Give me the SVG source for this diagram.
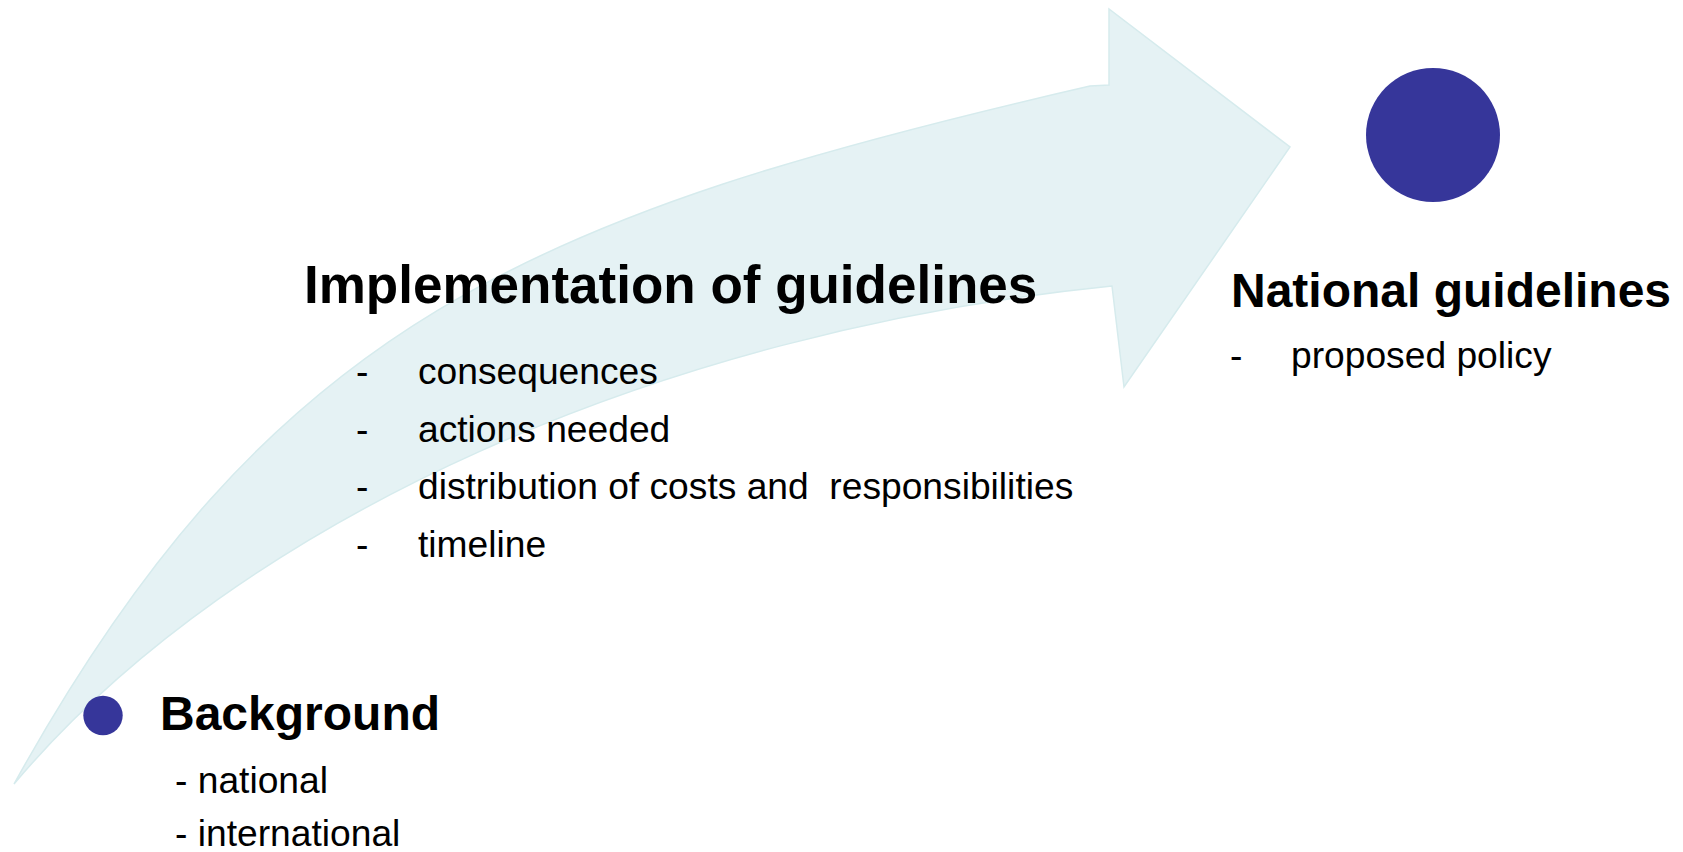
<svg xmlns="http://www.w3.org/2000/svg" width="1683" height="852" viewBox="0 0 1683 852">
  <style>
    text { font-family: "Liberation Sans", Arial, sans-serif; fill: #000; white-space: pre; }
    .h { font-weight: bold; }
    .h1 { font-size: 53px; }
    .h2 { font-size: 48px; }
    .b { font-size: 37.2px; }
    .dot { fill: #36369A; }
    .arrow { fill: #E5F2F4; stroke: #D6EBED; stroke-width: 1.5; stroke-linejoin: miter; }
  </style>
  <rect x="0" y="0" width="1683" height="852" fill="#FFFFFF"/>
  <g id="connectors">
    <path class="arrow" d="M14,784 C270,322 530,215 1090,86 L1109,85 L1109,9 L1290,147 L1124,387 L1112,286 C664,331 240,516 14,784 Z"/>
  </g>
  <g id="node-implementation">
    <text class="h h1" x="304" y="303">Implementation of guidelines</text>
    <text class="b" x="356" y="384">-</text>
    <text class="b" x="418" y="384">consequences</text>
    <text class="b" x="356" y="441.5">-</text>
    <text class="b" x="418" y="441.5">actions needed</text>
    <text class="b" x="356" y="499">-</text>
    <text class="b" x="418" y="499">distribution of costs and  responsibilities</text>
    <text class="b" x="356" y="556.5">-</text>
    <text class="b" x="418" y="556.5">timeline</text>
  </g>
  <g id="node-national">
    <circle class="dot" cx="1433" cy="135" r="67"/>
    <text class="h h2" x="1231" y="307">National guidelines</text>
    <text class="b" x="1230" y="368">-</text>
    <text class="b" x="1291" y="368">proposed policy</text>
  </g>
  <g id="node-background">
    <circle class="dot" cx="103" cy="715.5" r="19.7"/>
    <text class="h h2" x="160" y="730">Background</text>
    <text class="b" x="175" y="793">- national</text>
    <text class="b" x="175" y="846">- international</text>
  </g>
</svg>
